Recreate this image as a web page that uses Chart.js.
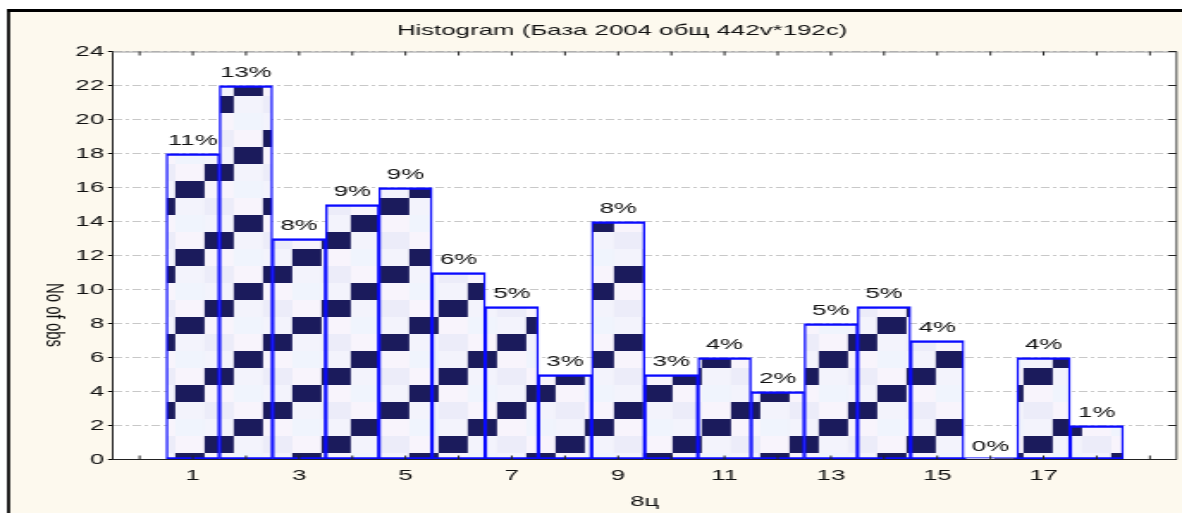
<!DOCTYPE html>
<html>
<head>
<meta charset="utf-8">
<script src="https://cdn.jsdelivr.net/npm/chart.js@4"></script>
<style>
  html, body { margin: 0; padding: 0; background: #fff; overflow: hidden; }
  /* the original picture is a horizontally stretched export, so draw narrow and stretch */
  #wrap { width: 687px; height: 513px; transform: scaleX(1.72052); transform-origin: 0 0; }
</style>
</head>
<body>
<div id="wrap"><canvas id="hist"></canvas></div>
<script>
// screen px -> canvas px (x only, the wrapper is stretched)
const S = 1182 / 687;
const sx = (v) => v / S;

const categories = ['0', '1', '2', '3', '4', '5', '6', '7', '8', '9', '10', '11', '12', '13', '14', '15', '16', '17', '18', '19'];
const counts = [null, 18, 22, 13, 15, 16, 11, 9, 5, 14, 5, 6, 4, 8, 9, 7, 0, 6, 2, null];
const percents = [null, '11%', '13%', '8%', '9%', '9%', '6%', '5%', '3%', '8%', '3%', '4%', '2%', '5%', '5%', '4%', '0%', '4%', '1%', null];
const tickLabels = ['1', '3', '5', '7', '9', '11', '13', '15', '17'];

const FONT = '"Liberation Sans", Arial, sans-serif';

// checkered fill like the Statistica bars
function makePattern(ctx) {
    const cell = 17;
    const tile = document.createElement('canvas');
    tile.width = cell * 4;
    tile.height = cell * 4;
    const t = tile.getContext('2d');
    const lights = ['#f3f3fc', '#ececf9', '#f8f4fc', '#f0f4fd'];
    for (let c = 0; c < 4; c++) {
        for (let r = 0; r < 4; r++) {
            const dark = ((1 - c) % 4 + 4) % 4 === r;
            t.fillStyle = dark ? '#1b1b5c' : lights[(r * 3 + c) % 4];
            t.fillRect(c * cell, r * cell, cell, cell);
        }
    }
    const p = ctx.createPattern(tile, 'repeat');
    p.setTransform(new DOMMatrix([1, 0, 0, 1, sx(146), 249]));
    return p;
}

const framePlugin = {
    id: 'frame',
    beforeDraw(chart) {
        const { ctx, chartArea: a, width, height } = chart;
        ctx.save();
        ctx.fillStyle = '#ffffff';
        ctx.fillRect(0, 0, width, height);
        ctx.fillStyle = '#fdf9ee';
        ctx.fillRect(sx(8), 10, width, height);
        ctx.fillStyle = '#000';
        ctx.fillRect(sx(7), 9, width, 3);
        ctx.fillRect(sx(7), 9, sx(3), height);
        ctx.fillStyle = '#ffffff';
        ctx.fillRect(a.left, a.top, a.right - a.left, a.bottom - a.top);

        // title
        ctx.fillStyle = '#111';
        ctx.font = '15px ' + FONT;
        ctx.textAlign = 'center';
        ctx.textBaseline = 'middle';
        ctx.fillText('Histogram (База 2004 общ 442v*192c)', sx(622), 31);

        // y axis title, reads top to bottom
        ctx.translate(sx(53), 315);
        ctx.rotate(Math.PI / 2);
        ctx.fillText('No of obs', 0, 0);
        ctx.restore();
    },
    afterDatasetsDraw(chart) {
        const { ctx } = chart;
        const meta = chart.getDatasetMeta(0);
        const y = chart.scales.y;
        ctx.save();
        ctx.fillStyle = '#111';
        ctx.font = '15px ' + FONT;
        ctx.textAlign = 'center';
        ctx.textBaseline = 'middle';
        meta.data.forEach((bar, i) => {
            if (percents[i] == null) return;
            ctx.fillText(percents[i], bar.x, y.getPixelForValue(counts[i]) - 13);
        });
        ctx.restore();
    },
    afterDraw(chart) {
        const { ctx, chartArea: a } = chart;
        const x = chart.scales.x;
        const y = chart.scales.y;
        ctx.save();
        ctx.lineWidth = 1;
        ctx.strokeStyle = '#999';
        ctx.beginPath();
        ctx.moveTo(a.left, a.top + 0.5);
        ctx.lineTo(a.right, a.top + 0.5);
        ctx.stroke();
        ctx.strokeStyle = '#444';
        ctx.beginPath();
        ctx.moveTo(a.right, a.top);
        ctx.lineTo(a.right, a.bottom);
        ctx.stroke();
        // inward ticks on the frame
        ctx.strokeStyle = '#222';
        ctx.beginPath();
        categories.forEach((c, i) => {
            const px = x.getPixelForValue(i);
            ctx.moveTo(px, a.bottom);
            ctx.lineTo(px, a.bottom - 4);
            ctx.moveTo(px, a.top);
            ctx.lineTo(px, a.top + 4);
        });
        y.ticks.forEach((t) => {
            const py = y.getPixelForValue(t.value);
            ctx.moveTo(a.right, py);
            ctx.lineTo(a.right - sx(8), py);
        });
        ctx.stroke();
        ctx.restore();
    }
};

const canvas = document.getElementById('hist');
const ctx = canvas.getContext('2d');
const checker = makePattern(ctx);

const histChart = new Chart(ctx, {
    type: 'bar',
    data: {
        labels: categories,
        datasets: [
            {
                label: '8ц',
                data: counts,
                backgroundColor: checker,
                borderColor: '#0a0aff',
                borderWidth: { top: 2.5, bottom: 2, left: 1.4, right: 1.4 },
                borderSkipped: false,
                minBarLength: 2,
                barPercentage: 1,
                categoryPercentage: 1,
            },
        ],
    },
    options: {
        responsive: true,
        maintainAspectRatio: false,
        animation: false,
        events: [],
        layout: {
            padding: { left: 0, top: 51.5, right: 687 - sx(1176.5), bottom: 0 },
        },
        plugins: {
            legend: { display: false },
            title: { display: false },
            tooltip: { enabled: false },
        },
        scales: {
            x: {
                grid: { display: false, drawTicks: false },
                border: { display: true, color: '#222', width: 1 },
                ticks: {
                    autoSkip: false,
                    maxRotation: 0,
                    padding: 7,
                    color: '#111',
                    font: { family: FONT, size: 15 },
                    callback: function (value) {
                        const l = this.getLabelForValue(value);
                        return tickLabels.includes(l) ? l : '';
                    },
                },
                title: {
                    display: true,
                    text: '8ц',
                    color: '#111',
                    font: { family: FONT, size: 15 },
                    padding: { top: 0, bottom: 2 },
                },
                afterFit: (scale) => { scale.height = 53.5; },
            },
            y: {
                min: 0,
                max: 24,
                grid: {
                    color: '#c8c8c8',
                    lineWidth: 1,
                    tickLength: sx(5),
                    tickColor: '#000',
                    tickBorderDash: [],
                },
                border: { display: true, color: '#222', width: 1, dash: [5, 2, 2, 2] },
                ticks: {
                    stepSize: 2,
                    padding: 2.3,
                    color: '#111',
                    font: { family: FONT, size: 15 },
                },
                afterFit: (scale) => { scale.width = sx(113); },
            },
        },
    },
    plugins: [framePlugin],
});
</script>
</body>
</html>
